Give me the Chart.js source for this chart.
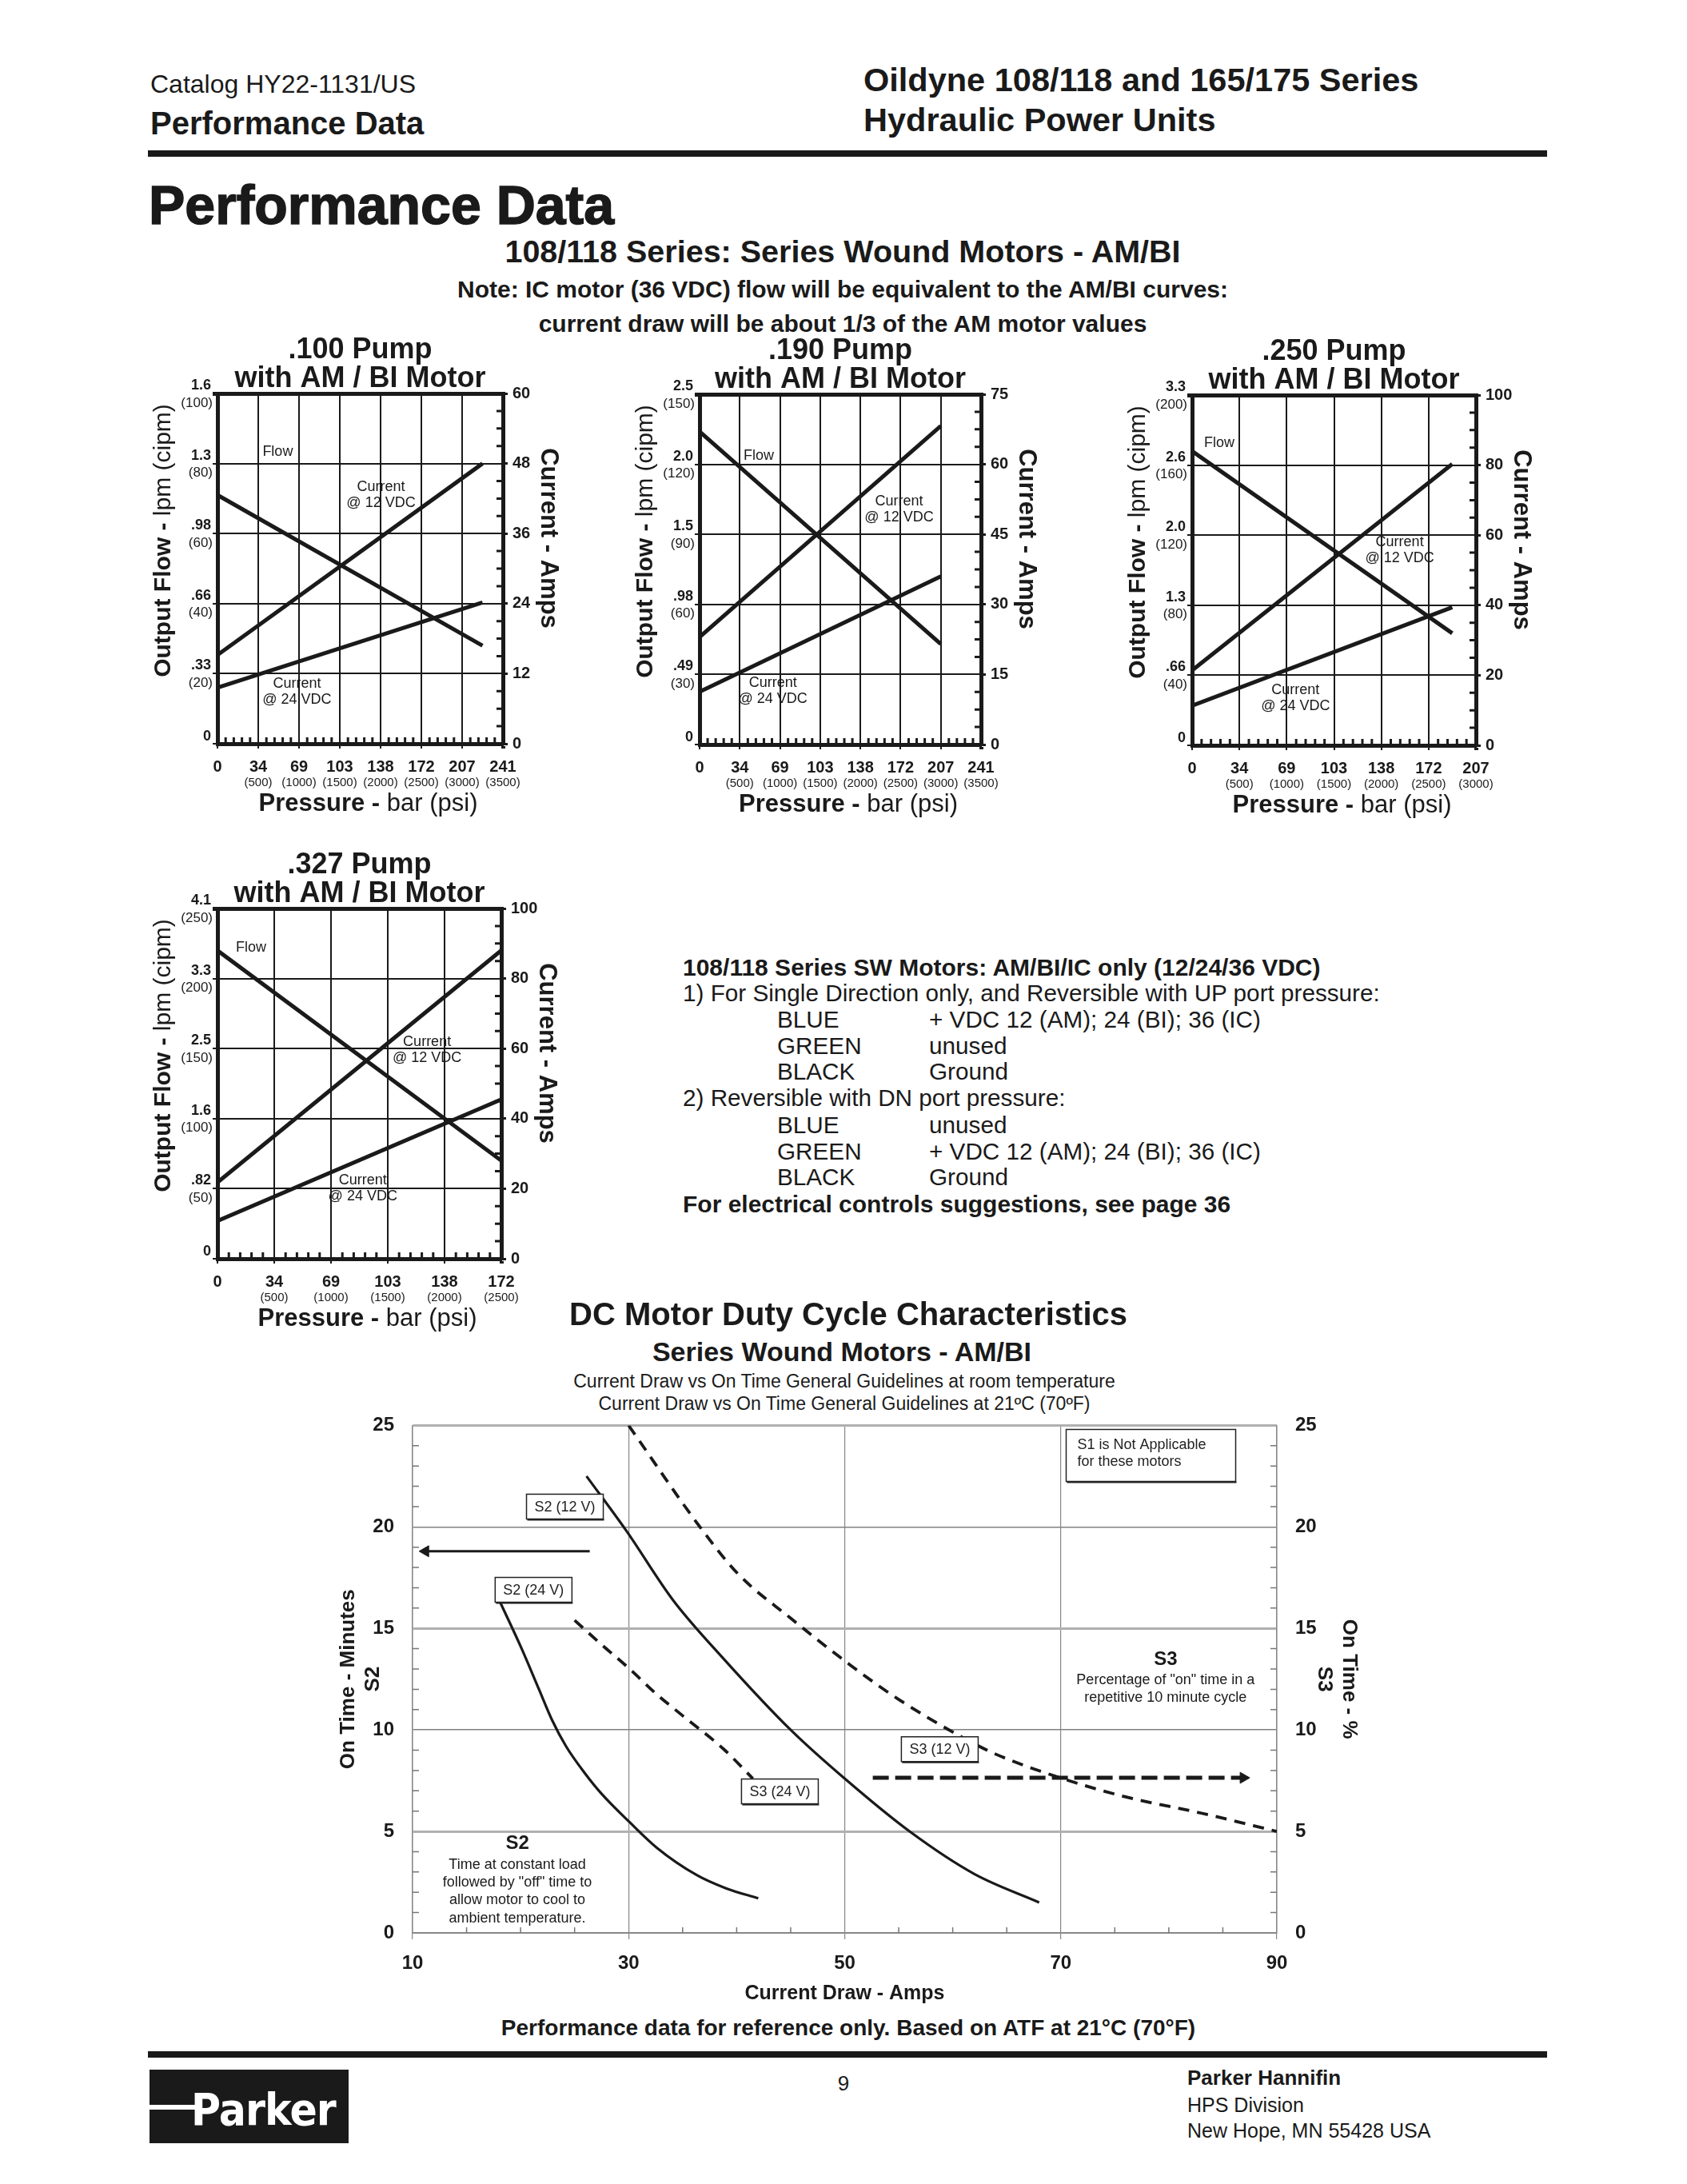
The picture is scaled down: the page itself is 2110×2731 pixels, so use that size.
<!DOCTYPE html>
<html>
<head>
<meta charset="utf-8">
<title>Oildyne 108/118 Performance Data</title>
<script src="https://cdn.jsdelivr.net/npm/chart.js@4.4.1/dist/chart.umd.min.js"></script>
<style>
  html, body { margin: 0; padding: 0; background: #fff; }
  #page { position: relative; width: 2110px; height: 2731px; overflow: hidden; background: #fff; color: #1a1a1a;
          font-family: "Liberation Sans", Arial, Helvetica, sans-serif; }
  .t { position: absolute; white-space: nowrap; line-height: 1; }
  .c { transform: translate(-50%, -50%); }
  .l { transform: translateY(-50%); }
  .b { font-weight: bold; }
  .rule { position: absolute; left: 185px; width: 1750px; height: 8px; background: #1a1a1a; }
  canvas { position: absolute; }
</style>
</head>
<body>
<div id="page">
  <!-- page header -->
  <div class="t l" style="left:188px;top:105px;font-size:32px">Catalog HY22-1131/US</div>
  <div class="t l b" style="left:188px;top:154px;font-size:40px">Performance Data</div>
  <div class="t l b" style="left:1080px;top:100px;font-size:41.5px">Oildyne 108/118 and 165/175 Series</div>
  <div class="t l b" style="left:1080px;top:150px;font-size:41.5px">Hydraulic Power Units</div>
  <div class="rule" style="top:188px"></div>

  <div class="t l b" style="left:186px;top:256px;font-size:68px;-webkit-text-stroke:1.5px #1a1a1a">Performance Data</div>
  <div class="t c b" style="left:1054px;top:315px;font-size:39.5px">108/118 Series: Series Wound Motors - AM/BI</div>
  <div class="t c b" style="left:1054px;top:362px;font-size:30px">Note: IC motor (36 VDC) flow will be equivalent to the AM/BI curves:</div>
  <div class="t c b" style="left:1054px;top:405px;font-size:30px">current draw will be about 1/3 of the AM motor values</div>

  <!-- pump charts -->
  <canvas id="c100" width="547" height="638" style="left:177px;top:392px"></canvas>
  <canvas id="c190" width="542" height="638" style="left:780px;top:393px"></canvas>
  <canvas id="c250" width="545" height="638" style="left:1396px;top:394px"></canvas>
  <canvas id="c327" width="545" height="638" style="left:177px;top:1036px"></canvas>

  <!-- wiring notes -->
  <div class="t l b" style="left:854px;top:1210px;font-size:30px">108/118 Series SW Motors: AM/BI/IC only (12/24/36 VDC)</div>
  <div class="t l" style="left:854px;top:1242px;font-size:29.7px">1) For Single Direction only, and Reversible with UP port pressure:</div>
  <div class="t l" style="left:972px;top:1275px;font-size:29.7px">BLUE</div>
  <div class="t l" style="left:1162px;top:1275px;font-size:29.7px">+ VDC 12 (AM); 24 (BI); 36 (IC)</div>
  <div class="t l" style="left:972px;top:1308px;font-size:29.7px">GREEN</div>
  <div class="t l" style="left:1162px;top:1308px;font-size:29.7px">unused</div>
  <div class="t l" style="left:972px;top:1340px;font-size:29.7px">BLACK</div>
  <div class="t l" style="left:1162px;top:1340px;font-size:29.7px">Ground</div>
  <div class="t l" style="left:854px;top:1373px;font-size:29.7px">2) Reversible with DN port pressure:</div>
  <div class="t l" style="left:972px;top:1407px;font-size:29.7px">BLUE</div>
  <div class="t l" style="left:1162px;top:1407px;font-size:29.7px">unused</div>
  <div class="t l" style="left:972px;top:1440px;font-size:29.7px">GREEN</div>
  <div class="t l" style="left:1162px;top:1440px;font-size:29.7px">+ VDC 12 (AM); 24 (BI); 36 (IC)</div>
  <div class="t l" style="left:972px;top:1472px;font-size:29.7px">BLACK</div>
  <div class="t l" style="left:1162px;top:1472px;font-size:29.7px">Ground</div>
  <div class="t l b" style="left:854px;top:1506px;font-size:30px">For electrical controls suggestions, see page 36</div>

  <!-- duty cycle chart -->
  <div class="t c b" style="left:1061px;top:1643px;font-size:40px">DC Motor Duty Cycle Characteristics</div>
  <div class="t c b" style="left:1053px;top:1690px;font-size:34px">Series Wound Motors - AM/BI</div>
  <div class="t c" style="left:1056px;top:1727px;font-size:23px">Current Draw vs On Time General Guidelines at room temperature</div>
  <div class="t c" style="left:1056px;top:1755px;font-size:23px">Current Draw vs On Time General Guidelines at 21ºC (70ºF)</div>
  <canvas id="duty" width="1320" height="775" style="left:400px;top:1745px"></canvas>
  <div class="t c b" style="left:1061px;top:2536px;font-size:28px">Performance data for reference only. Based on ATF at 21°C (70°F)</div>

  <!-- footer -->
  <div class="rule" style="top:2565px"></div>
  <div style="position:absolute;left:187px;top:2588px;width:249px;height:92px;background:#1a1a1a;overflow:hidden">
    <div style="position:absolute;left:0;top:44px;width:60px;height:6px;background:#fff"></div>
    <div class="t" style="left:52px;top:50px;transform:translateY(-50%) scaleX(0.92);transform-origin:left center;color:#fff;font:bold 55px 'DejaVu Sans';letter-spacing:-1px">Parker</div>
  </div>
  <div class="t c" style="left:1055px;top:2605px;font-size:26px">9</div>
  <div class="t l b" style="left:1485px;top:2598px;font-size:26px">Parker Hannifin</div>
  <div class="t l" style="left:1485px;top:2632px;font-size:25px">HPS Division</div>
  <div class="t l" style="left:1485px;top:2664px;font-size:25px">New Hope, MN 55428 USA</div>
</div>

<script>
const INK = '#1a1a1a';
const FONT = '"Liberation Sans", Arial, Helvetica, sans-serif';
Chart.defaults.font.family = FONT;
Chart.defaults.color = INK;

// pressure axis (shared by the four pump charts)
const barLabels = ['0', '34', '69', '103', '138', '172', '207', '241'];
const psiLabels = ['', '(500)', '(1000)', '(1500)', '(2000)', '(2500)', '(3000)', '(3500)'];

// .100 pump  (flow in cipm, current in amps, pressure in psi)
const p100Lpm = ['0', '.33', '.66', '.98', '1.3', '1.6'];
const p100Cipm = ['', '(20)', '(40)', '(60)', '(80)', '(100)'];
const p100Psi = [0, 3250];
const p100Flow = [71, 28];
const p100Amp12 = [15.2, 48];
const p100Amp24 = [9.6, 24.2];

// .190 pump
const p190Lpm = ['0', '.49', '.98', '1.5', '2.0', '2.5'];
const p190Cipm = ['', '(30)', '(60)', '(90)', '(120)', '(150)'];
const p190Psi = [0, 3000];
const p190Flow = [134, 43];
const p190Amp12 = [23, 68.2];
const p190Amp24 = [11.3, 36];

// .250 pump
const p250Lpm = ['0', '.66', '1.3', '2.0', '2.6', '3.3'];
const p250Cipm = ['', '(40)', '(80)', '(120)', '(160)', '(200)'];
const p250Psi = [0, 2750];
const p250Flow = [168, 64];
const p250Amp12 = [21.4, 80.3];
const p250Amp24 = [11.3, 39.4];

// .327 pump
const p327Lpm = ['0', '.82', '1.6', '2.5', '3.3', '4.1'];
const p327Cipm = ['', '(50)', '(100)', '(150)', '(200)', '(250)'];
const p327Psi = [0, 2500];
const p327Flow = [220, 70];
const p327Amp12 = [21.8, 88];
const p327Amp24 = [10.8, 45.5];

// duty cycle curves (amps vs minutes)
const s2v12Amps = [26.1, 29.8, 34.1, 38.8, 45, 50, 56, 62, 68];
const s2v12Min  = [22.5, 19.8, 16.4, 13.5, 10, 7.6, 5, 2.9, 1.5];
const s2v24Amps = [18.1, 20.1, 21.7, 22.9, 24.2, 25.9, 27.5, 30.1, 32.6, 36.3, 39, 42];
const s2v24Min  = [16.3, 14.0, 12.0, 10.5, 9.2, 7.9, 6.85, 5.45, 4.2, 2.85, 2.2, 1.7];
const s3v12Amps = [30, 36.6, 40.1, 45, 50.5, 55, 61, 64, 69.6, 76, 83, 90];
const s3v12Min  = [25, 20, 17.7, 15.5, 13.2, 11.5, 9.6, 8.8, 7.7, 6.7, 5.9, 5.0];
const s3v24Amps = [25, 27.5, 30.1, 32.5, 35, 38.8, 41.5];
const s3v24Min  = [15.4, 14.2, 13, 11.8, 10.7, 9.05, 7.6];
const s2ArrowAmps = [26.4, 11.2];
const s2ArrowMin  = [18.8, 18.8];
const s3ArrowAmps = [52.6, 86.9];
const s3ArrowMin  = [7.64, 7.64];

function pts(xs, ys) {
  return xs.map((v, i) => ({ x: v, y: ys[i] }));
}

function mixedText(ctx, parts, x, y) {
  let w = 0;
  parts.forEach(p => { ctx.font = p[0]; w += ctx.measureText(p[1]).width; });
  let cx = x - w / 2;
  ctx.textAlign = 'left';
  parts.forEach(p => { ctx.font = p[0]; ctx.fillText(p[1], cx, y); cx += ctx.measureText(p[1]).width; });
}

function pumpChart(spec) {
  const decor = {
    id: 'pumpDecor',
    afterDraw(chart) {
      const { ctx, chartArea: a, scales } = chart;
      const midY = (a.top + a.bottom) / 2;
      const midX = (a.left + a.right) / 2;
      ctx.save();
      ctx.fillStyle = INK;
      ctx.strokeStyle = INK;
      ctx.textBaseline = 'middle';

      // left ticks: lpm over (cipm)
      ctx.textAlign = 'right';
      scales.y.ticks.forEach((t, i) => {
        const py = scales.y.getPixelForValue(t.value);
        ctx.font = 'bold 18px ' + FONT;
        ctx.fillText(spec.lpm[i], a.left - 8, py - (i ? 10 : 9));
        if (spec.cipm[i]) {
          ctx.font = '17px ' + FONT;
          ctx.fillText(spec.cipm[i], a.left - 6, py + 12);
        }
      });

      // bottom ticks: bar over (psi)
      ctx.textAlign = 'center';
      scales.x.ticks.forEach((t, i) => {
        const px = scales.x.getPixelForValue(t.value);
        ctx.font = 'bold 20px ' + FONT;
        ctx.fillText(barLabels[i], px, a.bottom + 29);
        ctx.font = '15px ' + FONT;
        ctx.fillText(psiLabels[i], px, a.bottom + 49);
      });

      // minor ticks inside the frame
      ctx.lineWidth = 3;
      ctx.beginPath();
      for (let v = 100; v < spec.psiMax; v += 100) {
        if (v % 500 === 0) continue;
        const px = scales.x.getPixelForValue(v);
        ctx.moveTo(px, a.bottom - 2);
        ctx.lineTo(px, a.bottom - 8);
      }
      for (let k = 1; k < 20; k++) {
        if (k % 4 === 0) continue;
        const py = scales.y2.getPixelForValue(k * spec.ampMax / 20);
        ctx.moveTo(a.right - 2, py);
        ctx.lineTo(a.right - 8, py);
      }
      ctx.stroke();

      // axis titles
      ctx.textBaseline = 'middle';
      mixedText(ctx, [['bold 31px ' + FONT, 'Pressure - '], ['31px ' + FONT, 'bar (psi)']], midX + 10, a.bottom + 75);

      ctx.save();
      ctx.translate(a.left - 67, midY - 35);
      ctx.rotate(-Math.PI / 2);
      mixedText(ctx, [['bold 30px ' + FONT, 'Output Flow - '], ['30px ' + FONT, 'lpm (cipm)']], 0, 0);
      ctx.restore();

      ctx.save();
      ctx.translate(a.right + 57, midY - 38);
      ctx.rotate(Math.PI / 2);
      ctx.textAlign = 'center';
      ctx.font = 'bold 31px ' + FONT;
      ctx.fillText('Current - Amps', 0, 0);
      ctx.restore();

      // curve labels
      ctx.textAlign = 'center';
      ctx.font = '18px ' + FONT;
      const at = p => [scales.x.getPixelForValue(p[0]), scales.y.getPixelForValue(p[1])];
      let q = at(spec.notes.flow);
      ctx.fillText('Flow', q[0], q[1]);
      q = at(spec.notes.c12);
      ctx.fillText('Current', q[0], q[1] - 10);
      ctx.fillText('@ 12 VDC', q[0], q[1] + 10);
      q = at(spec.notes.c24);
      ctx.fillText('Current', q[0], q[1] - 10);
      ctx.fillText('@ 24 VDC', q[0], q[1] + 10);
      ctx.restore();
    }
  };

  const lineSet = (label, ys, axis) => ({
    label: label,
    yAxisID: axis,
    data: pts(spec.psi, ys),
    borderColor: INK,
    borderWidth: 5,
    borderCapStyle: 'butt',
    pointRadius: 0,
    fill: false
  });

  return new Chart(document.getElementById(spec.id), {
    type: 'line',
    data: {
      datasets: [
        lineSet('Flow', spec.flow, 'y'),
        lineSet('Current @ 12 VDC', spec.amp12, 'y2'),
        lineSet('Current @ 24 VDC', spec.amp24, 'y2')
      ]
    },
    options: {
      responsive: false,
      animation: false,
      devicePixelRatio: 1,
      layout: { padding: 0 },
      plugins: {
        legend: { display: false },
        tooltip: { enabled: false },
        title: {
          display: true,
          text: [spec.title, 'with AM / BI Motor'],
          color: INK,
          font: { size: 36, weight: 'bold', lineHeight: 1 },
          padding: { top: 28, bottom: 0 }
        }
      },
      scales: {
        x: {
          type: 'linear', min: 0, max: spec.psiMax,
          ticks: { display: false, stepSize: 500 },
          grid: { color: INK, lineWidth: c => (c.tick && c.tick.value === spec.psiMax ? 5 : 2), tickLength: 6 },
          border: { color: INK, width: 5 },
          afterFit: s => { s.height = 100; }
        },
        y: {
          type: 'linear', position: 'left', min: 0, max: spec.cipmMax,
          ticks: { display: false, stepSize: spec.cipmMax / 5 },
          grid: { color: INK, lineWidth: c => (c.tick && c.tick.value === spec.cipmMax ? 5 : 2), tickLength: 6 },
          border: { color: INK, width: 5 },
          afterFit: s => { s.width = 95; }
        },
        y2: {
          type: 'linear', position: 'right', min: 0, max: spec.ampMax,
          ticks: { stepSize: spec.ampMax / 5, color: INK, padding: 6, font: { size: 20, weight: 'bold' } },
          grid: { drawOnChartArea: false, color: INK, lineWidth: 3, tickLength: 6 },
          border: { color: INK, width: 5 },
          afterFit: s => { s.width = 95; }
        }
      }
    },
    plugins: [decor]
  });
}

pumpChart({ id: 'c100', title: '.100 Pump', psiMax: 3500, cipmMax: 100, ampMax: 60,
  lpm: p100Lpm, cipm: p100Cipm, psi: p100Psi, flow: p100Flow, amp12: p100Amp12, amp24: p100Amp24,
  notes: { flow: [739, 83.4], c12: [2005, 71.1], c24: [975, 14.9] } });
pumpChart({ id: 'c190', title: '.190 Pump', psiMax: 3500, cipmMax: 150, ampMax: 75,
  lpm: p190Lpm, cipm: p190Cipm, psi: p190Psi, flow: p190Flow, amp12: p190Amp12, amp24: p190Amp24,
  notes: { flow: [736, 123.5], c12: [2481, 100.6], c24: [912, 22.8] } });
pumpChart({ id: 'c250', title: '.250 Pump', psiMax: 3000, cipmMax: 200, ampMax: 100,
  lpm: p250Lpm, cipm: p250Cipm, psi: p250Psi, flow: p250Flow, amp12: p250Amp12, amp24: p250Amp24,
  notes: { flow: [287, 172.6], c12: [2194, 111.2], c24: [1093, 26.8] } });
pumpChart({ id: 'c327', title: '.327 Pump', psiMax: 2500, cipmMax: 250, ampMax: 100,
  lpm: p327Lpm, cipm: p327Cipm, psi: p327Psi, flow: p327Flow, amp12: p327Amp12, amp24: p327Amp24,
  notes: { flow: [296, 222], c12: [1846, 149], c24: [1280, 50] } });

// ---- duty cycle chart ----
function labelBox(ctx, x, y, text) {
  ctx.font = '18px ' + FONT;
  const w = ctx.measureText(text).width + 20, h = 31;
  ctx.fillStyle = '#fff';
  ctx.fillRect(x - w / 2, y - h / 2, w, h);
  ctx.strokeStyle = '#222';
  ctx.lineWidth = 1.5;
  ctx.strokeRect(x - w / 2, y - h / 2, w, h);
  ctx.fillStyle = '#222';
  ctx.fillRect(x - w / 2 + 1, y + h / 2, w, 2);
  ctx.textAlign = 'center';
  ctx.textBaseline = 'middle';
  ctx.fillText(text, x, y + 1);
}

const dutyDecor = {
  id: 'dutyDecor',
  beforeDatasetsDraw(chart) {
    const { ctx, chartArea: a, scales: { x, y } } = chart;
    ctx.save();
    ctx.strokeStyle = '#777';
    ctx.lineWidth = 1.5;
    ctx.beginPath();
    for (let v = 15; v < 90; v += 5) {
      if ((v - 10) % 20 === 0) continue;
      const px = x.getPixelForValue(v);
      ctx.moveTo(px, a.bottom);
      ctx.lineTo(px, a.bottom - 7);
    }
    for (let v = 1; v < 25; v++) {
      if (v % 5 === 0) continue;
      const py = y.getPixelForValue(v);
      ctx.moveTo(a.left, py);
      ctx.lineTo(a.left + 8, py);
      ctx.moveTo(a.right, py);
      ctx.lineTo(a.right - 8, py);
    }
    ctx.stroke();
    ctx.restore();
  },
  afterDatasetsDraw(chart) {
    const { ctx, scales: { x, y } } = chart;
    const X = v => x.getPixelForValue(v), Y = v => y.getPixelForValue(v);
    ctx.save();
    labelBox(ctx, X(24.1), Y(21.0), 'S2 (12 V)');
    labelBox(ctx, X(21.2), Y(16.9), 'S2 (24 V)');
    labelBox(ctx, X(58.8), Y(9.05), 'S3 (12 V)');
    labelBox(ctx, X(44.0), Y(6.97), 'S3 (24 V)');

    // S1 note box
    const bx = X(70.5), by = Y(24.8);
    ctx.fillStyle = '#fff';
    ctx.fillRect(bx, by, 212, 65);
    ctx.strokeStyle = '#222';
    ctx.lineWidth = 1.5;
    ctx.strokeRect(bx, by, 212, 65);
    ctx.fillStyle = '#222';
    ctx.fillRect(bx + 1, by + 65, 212, 2);
    ctx.textAlign = 'left';
    ctx.textBaseline = 'middle';
    ctx.font = '18px ' + FONT;
    ctx.fillText('S1 is Not Applicable', bx + 14, by + 20);
    ctx.fillText('for these motors', bx + 14, by + 41);

    ctx.textAlign = 'center';
    ctx.fillStyle = INK;
    ctx.font = 'bold 24px ' + FONT;
    ctx.fillText('S3', X(79.7), Y(13.46));
    ctx.fillText('S2', X(19.7), Y(4.41));
    ctx.font = '18px ' + FONT;
    ctx.fillText('Percentage of "on" time in a', X(79.7), Y(12.44));
    ctx.fillText('repetitive 10 minute cycle', X(79.7), Y(11.57));
    ctx.fillText('Time at constant load', X(19.7), Y(3.35));
    ctx.fillText('followed by "off" time to', X(19.7), Y(2.48));
    ctx.fillText('allow motor to cool to', X(19.7), Y(1.61));
    ctx.fillText('ambient temperature.', X(19.7), Y(0.71));
    ctx.restore();
  }
};

const curve = (label, xs, ys, dashed) => ({
  label: label,
  data: pts(xs, ys),
  borderColor: INK,
  borderWidth: dashed ? 3.8 : 3.2,
  borderDash: dashed ? [14, 10] : [],
  pointRadius: 0,
  cubicInterpolationMode: 'monotone',
  fill: false
});

const arrow = (label, xs, ys, dashed, rot) => ({
  label: label,
  data: pts(xs, ys),
  borderColor: INK,
  borderWidth: dashed ? 5 : 3,
  borderDash: dashed ? [20, 8] : [],
  pointStyle: 'triangle',
  pointRadius: c => (c.dataIndex === 1 ? 8 : 0),
  pointRotation: rot,
  pointBackgroundColor: INK,
  pointBorderColor: INK,
  pointBorderWidth: 1,
  fill: false
});

// tick labels (padding 23) push the plot top down by half a label plus padding,
// so the canvas starts that much higher and carries no extra layout padding
new Chart(document.getElementById('duty'), {
  type: 'line',
  data: {
    datasets: [
      curve('S2 (12 V)', s2v12Amps, s2v12Min, false),
      curve('S2 (24 V)', s2v24Amps, s2v24Min, false),
      curve('S3 (12 V)', s3v12Amps, s3v12Min, true),
      curve('S3 (24 V)', s3v24Amps, s3v24Min, true),
      arrow('S2 axis', s2ArrowAmps, s2ArrowMin, false, -90),
      arrow('S3 axis', s3ArrowAmps, s3ArrowMin, true, 90)
    ]
  },
  options: {
    responsive: false,
    animation: false,
    devicePixelRatio: 1,
    layout: { padding: 0 },
    plugins: { legend: { display: false }, tooltip: { enabled: false } },
    scales: {
      x: {
        type: 'linear', min: 10, max: 90,
        ticks: { stepSize: 20, color: INK, padding: 16, font: { size: 24, weight: 'bold' } },
        grid: { color: '#888', lineWidth: 1.2, tickLength: 8 },
        border: { color: '#888', width: 2 },
        title: { display: true, text: 'Current Draw - Amps', color: INK, font: { size: 25, weight: 'bold' }, padding: { top: 0, bottom: 12 } },
        afterFit: s => { s.height = 103; }
      },
      y: {
        type: 'linear', position: 'left', min: 0, max: 25,
        ticks: { stepSize: 5, color: INK, padding: 23, font: { size: 24, weight: 'bold' } },
        grid: {
          drawTicks: false,
          color: c => (c.tick && c.tick.value % 10 === 5 ? '#b0b0b0' : '#808080'),
          lineWidth: c => (c.tick && c.tick.value % 10 === 5 ? 3 : 1.5)
        },
        border: { color: '#888', width: 1.5 },
        title: { display: true, text: ['On Time - Minutes', 'S2'], color: INK, font: { size: 26, weight: 'bold' }, padding: { top: 20, bottom: 0 } },
        afterFit: s => { s.width = 116; }
      },
      y2: {
        type: 'linear', position: 'right', min: 0, max: 25,
        ticks: { stepSize: 5, color: INK, padding: 23, font: { size: 24, weight: 'bold' } },
        grid: { drawOnChartArea: false, drawTicks: false },
        border: { color: '#888', width: 1.5 },
        title: { display: true, text: ['On Time - %', 'S3'], color: INK, font: { size: 26, weight: 'bold' }, padding: { top: 17, bottom: 0 } },
        afterFit: s => { s.width = 123; }
      }
    }
  },
  plugins: [dutyDecor]
});
</script>
</body>
</html>
